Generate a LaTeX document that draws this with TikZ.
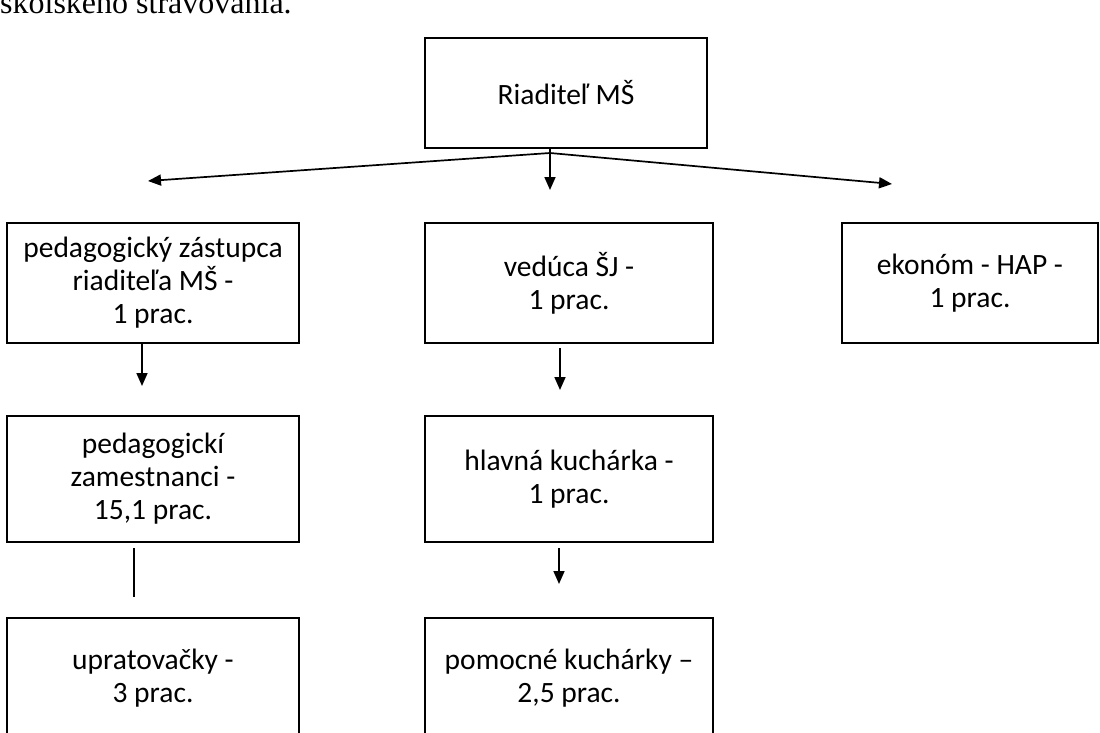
\documentclass[tikz,border=0pt]{standalone}
\usepackage{fontspec}
\setmainfont{Carlito}
\newfontfamily\serifdoc{Liberation Serif}
\usetikzlibrary{arrows.meta}
\tikzset{
  orgbox/.style={draw, line width=2.2pt, align=center, inner sep=0pt,
    font=\fontsize{29.5}{33}\selectfont},
  conn/.style={line width=1.7pt, -{Triangle[width=11pt,length=13pt]}},
  plainconn/.style={line width=1.7pt}
}
\begin{document}
\begin{tikzpicture}[x=1pt,y=-1pt]
\useasboundingbox (0,0) rectangle (1100,733);
% cut-off text line at the top
\node[anchor=base west, inner sep=0pt, font=\serifdoc\fontsize{32}{38}\selectfont] (top) at (0,14) {školského stravovania.};
% boxes
\node[orgbox, minimum width=282pt, minimum height=110pt] (dir) at (566,93) {Riaditeľ MŠ};
\node[orgbox, minimum width=292pt, minimum height=120pt] (zast) at (153,283) {pedagogický zástupca\\riaditeľa MŠ -\\1 prac.};
\node[orgbox, minimum width=288pt, minimum height=120pt] (ved) at (569,283) {vedúca ŠJ -\\1 prac.};
\node[orgbox, minimum width=256pt, minimum height=120pt] (ekon) at (970,283) {ekonóm - HAP -\\1 prac.};
\node[orgbox, minimum width=292pt, minimum height=126pt] (ped) at (153,479) {pedagogickí\\zamestnanci -\\15,1 prac.};
\node[orgbox, minimum width=288pt, minimum height=126pt] (hlav) at (569,479) {hlavná kuchárka -\\1 prac.};
\node[orgbox, anchor=north, minimum width=292pt, minimum height=128pt] (upr) at (153,617) {upratovačky -\\3 prac.\\[-21pt]\mbox{}};
\node[orgbox, anchor=north, minimum width=288pt, minimum height=128pt] (pom) at (569,617) {pomocné kuchárky –\\2,5 prac.\\[-21pt]\mbox{}};
% connectors
\coordinate (j) at (550,153);
\coordinate (tl) at (148,181);
\coordinate (td) at (550,190);
\coordinate (tr) at (892,184);
\draw[conn] (j) -- (tl);
\draw[conn] (j) -- (tr);
\draw[conn] (dir.south -| j) -- (td);
\coordinate (a1) at (142,386);
\draw[conn] (zast.south -| a1) -- (a1);
\coordinate (a2) at (560,390);
\draw[conn] (ved.south -| a2) ++(0,4) -- (a2);
\coordinate (a3s) at (134,548);
\coordinate (a3e) at (134,597);
\draw[plainconn] (a3s) -- (a3e);
\coordinate (a4) at (559,584);
\draw[conn] (hlav.south -| a4) ++(0,5) -- (a4);
\end{tikzpicture}
\end{document}
